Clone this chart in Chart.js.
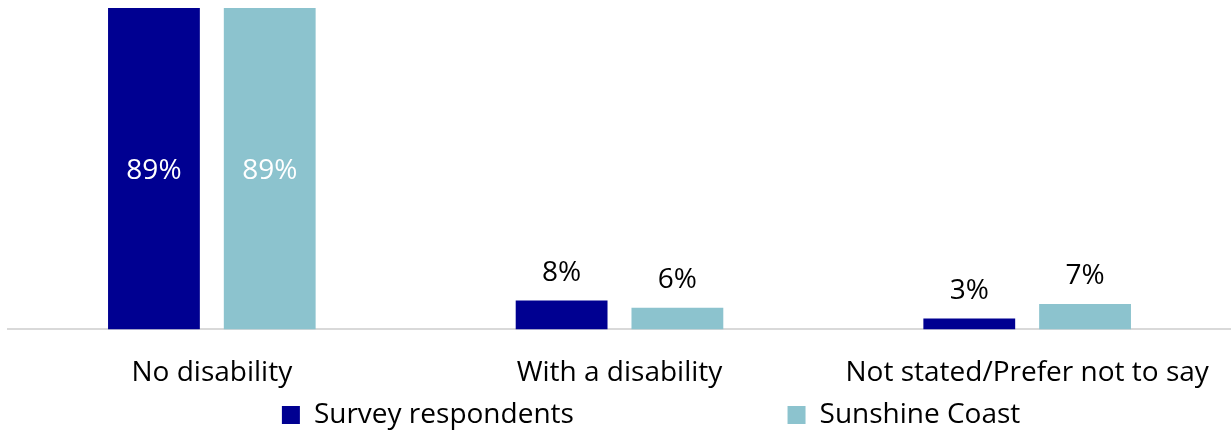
<!DOCTYPE html>
<html>
<head>
<meta charset="utf-8">
<script src="https://cdn.jsdelivr.net/npm/chart.js@4"></script>
<style>
  html, body { margin: 0; padding: 0; background: #fff; }
  #wrap { width: 1231px; height: 430px; }
</style>
</head>
<body>
<div id="wrap"><canvas id="disabilityChart"></canvas></div>
<script>
// --- Data ---
const categories = ['No disability', 'With a disability', 'Not stated/Prefer not to say'];
const surveyRespondents = [89, 8, 3];
const sunshineCoast = [89, 6, 7];
const seriesNames = ['Survey respondents', 'Sunshine Coast'];

const DARK = '#000091';
const LIGHT = '#8cc3ce';
const FONT = "'Open Sans', sans-serif";

// value labels: white inside the tall bars, black above the short ones
const valueLabels = {
    id: 'valueLabels',
    afterDatasetsDraw(chart) {
        const ctx = chart.ctx;
        ctx.save();
        ctx.font = `28px ${FONT}`;
        ctx.textAlign = 'center';
        chart.data.datasets.forEach((ds, i) => {
            chart.getDatasetMeta(i).data.forEach((bar, j) => {
                const v = ds.data[j];
                if (v > 50) {
                    ctx.fillStyle = '#ffffff';
                    ctx.textBaseline = 'middle';
                    ctx.fillText(v + '%', bar.x, (bar.y + bar.base) / 2 + 2);
                } else {
                    ctx.fillStyle = '#000000';
                    ctx.textBaseline = 'alphabetic';
                    ctx.fillText(v + '%', bar.x, bar.y - 20);
                }
            });
        });
        ctx.restore();
    }
};

new Chart(document.getElementById('disabilityChart'), {
    type: 'bar',
    data: {
        labels: categories,
        datasets: [
            { label: seriesNames[0], data: surveyRespondents, backgroundColor: DARK },
            { label: seriesNames[1], data: sunshineCoast, backgroundColor: LIGHT }
        ]
    },
    options: {
        responsive: true,
        maintainAspectRatio: false,
        animation: false,
        categoryPercentage: 0.568,
        barPercentage: 0.793,
        layout: { padding: { left: 8, right: -3, top: 8, bottom: -9 } },
        scales: {
            x: {
                // grid hidden, but tickLength still pushes the labels down
                grid: { display: false, drawTicks: true, tickLength: 26 },
                border: { color: '#d9d9d9', width: 2 },
                ticks: { color: '#000', font: { family: FONT, size: 28 }, padding: 1, maxRotation: 0 }
            },
            y: { display: false, min: 0, max: 89 }
        },
        plugins: {
            tooltip: { enabled: false },
            legend: {
                position: 'bottom',
                align: 'end',
                labels: {
                    color: '#000',
                    font: { family: FONT, size: 28 },
                    boxWidth: 18,
                    boxHeight: 18,
                    padding: 10,
                    generateLabels(chart) {
                        const items = Chart.defaults.plugins.legend.labels.generateLabels(chart);
                        // Excel spreads the two entries apart
                        items[0].text = items[0].text + ' '.repeat(28);
                        items[1].text = items[1].text + ' '.repeat(28);
                        items.forEach(it => { it.lineWidth = 0; });
                        return items;
                    }
                }
            }
        }
    },
    plugins: [valueLabels]
});
</script>
</body>
</html>
